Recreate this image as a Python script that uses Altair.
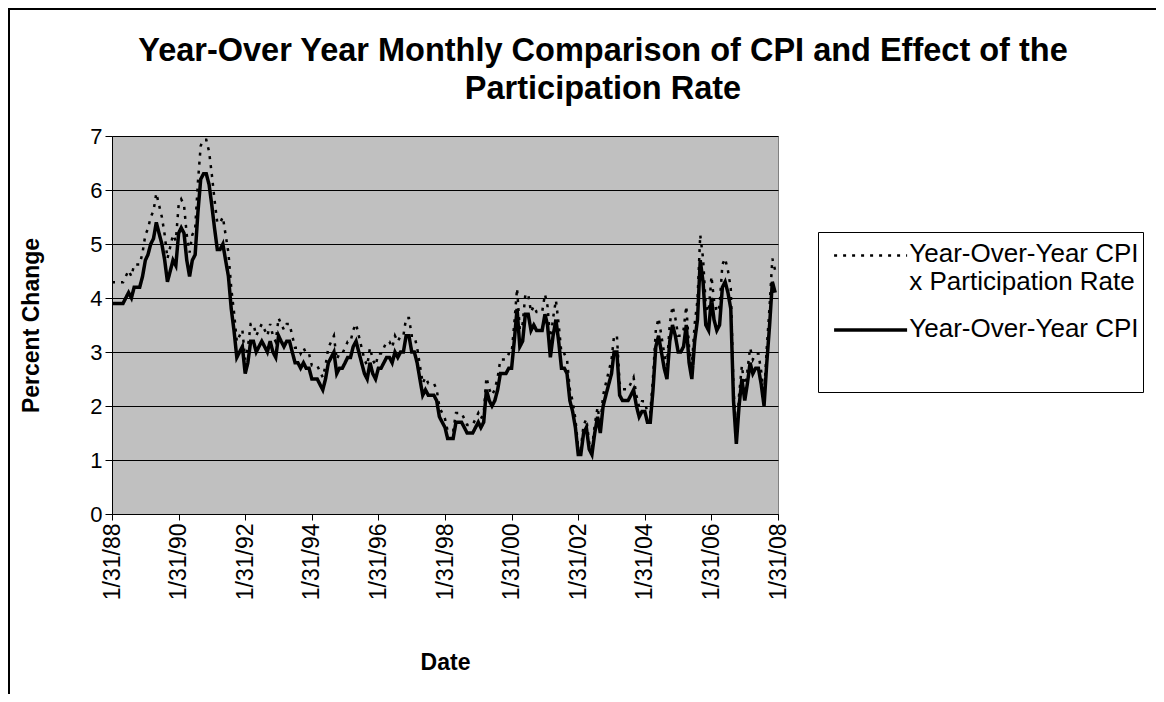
import calendar
import altair as alt
import pandas as pd

# ---------------- data ----------------
S_PR = "Year-Over-Year CPI x Participation Rate"
S_CPI = "Year-Over-Year CPI"

cpi_yoy = [
    3.9, 3.9, 3.9, 3.9, 3.9, 4.0, 4.1, 4.0, 4.2, 4.2, 4.2, 4.4,   # 1988
    4.7, 4.8, 5.0, 5.1, 5.4, 5.2, 5.0, 4.7, 4.3, 4.5, 4.7, 4.6,   # 1989
    5.2, 5.3, 5.2, 4.7, 4.4, 4.7, 4.8, 5.6, 6.2, 6.3, 6.3, 6.1,   # 1990
    5.7, 5.3, 4.9, 4.9, 5.0, 4.7, 4.4, 3.8, 3.4, 2.9, 3.0, 3.1,   # 1991
    2.6, 2.8, 3.2, 3.2, 3.0, 3.1, 3.2, 3.1, 3.0, 3.2, 3.0, 2.9,   # 1992
    3.3, 3.2, 3.1, 3.2, 3.2, 3.0, 2.8, 2.8, 2.7, 2.8, 2.7, 2.7,   # 1993
    2.5, 2.5, 2.5, 2.4, 2.3, 2.5, 2.8, 2.9, 3.0, 2.6, 2.7, 2.7,   # 1994
    2.8, 2.9, 2.9, 3.1, 3.2, 3.0, 2.8, 2.6, 2.5, 2.8, 2.6, 2.5,   # 1995
    2.7, 2.7, 2.8, 2.9, 2.9, 2.8, 3.0, 2.9, 3.0, 3.0, 3.3, 3.3,   # 1996
    3.0, 3.0, 2.8, 2.5, 2.2, 2.3, 2.2, 2.2, 2.2, 2.1, 1.8, 1.7,   # 1997
    1.6, 1.4, 1.4, 1.4, 1.7, 1.7, 1.7, 1.6, 1.5, 1.5, 1.5, 1.6,   # 1998
    1.7, 1.6, 1.7, 2.3, 2.1, 2.0, 2.1, 2.3, 2.6, 2.6, 2.6, 2.7,   # 1999
    2.7, 3.2, 3.8, 3.1, 3.2, 3.7, 3.7, 3.4, 3.5, 3.4, 3.4, 3.4,   # 2000
    3.7, 3.5, 2.9, 3.3, 3.6, 3.2, 2.7, 2.7, 2.6, 2.1, 1.9, 1.6,   # 2001
    1.1, 1.1, 1.5, 1.6, 1.2, 1.1, 1.5, 1.8, 1.5, 2.0, 2.2, 2.4,   # 2002
    2.6, 3.0, 3.0, 2.2, 2.1, 2.1, 2.1, 2.2, 2.3, 2.0, 1.8, 1.9,   # 2003
    1.9, 1.7, 1.7, 2.3, 3.1, 3.3, 3.0, 2.7, 2.5, 3.2, 3.5, 3.3,   # 2004
    3.0, 3.0, 3.1, 3.5, 2.8, 2.5, 3.2, 3.6, 4.7, 4.3, 3.5, 3.4,   # 2005
    4.0, 3.6, 3.4, 3.5, 4.2, 4.3, 4.1, 3.8, 2.1, 1.3, 2.0, 2.5,   # 2006
    2.1, 2.4, 2.8, 2.6, 2.7, 2.7, 2.4, 2.0, 2.8, 3.5, 4.3, 4.1,   # 2007
]

cpi_x_participation = [
    4.29, 4.29, 4.29, 4.29, 4.29, 4.40, 4.51, 4.40, 4.62, 4.62, 4.62, 4.84,   # 1988
    5.17, 5.28, 5.50, 5.61, 5.94, 5.72, 5.50, 5.17, 4.73, 4.95, 5.17, 5.06,   # 1989
    5.72, 5.83, 5.72, 5.17, 4.84, 5.17, 5.28, 6.16, 6.82, 6.93, 6.93, 6.71,   # 1990
    6.27, 5.83, 5.39, 5.39, 5.50, 5.17, 4.84, 4.18, 3.74, 3.19, 3.30, 3.41,   # 1991
    2.86, 3.08, 3.52, 3.52, 3.30, 3.41, 3.52, 3.41, 3.30, 3.52, 3.30, 3.19,   # 1992
    3.63, 3.52, 3.41, 3.52, 3.52, 3.30, 3.08, 3.08, 2.97, 3.08, 2.97, 2.97,   # 1993
    2.75, 2.75, 2.75, 2.64, 2.53, 2.75, 3.08, 3.19, 3.30, 2.86, 2.97, 2.97,   # 1994
    3.08, 3.19, 3.19, 3.41, 3.52, 3.30, 3.08, 2.86, 2.75, 3.08, 2.86, 2.75,   # 1995
    2.97, 2.97, 3.08, 3.19, 3.19, 3.08, 3.30, 3.19, 3.30, 3.30, 3.63, 3.63,   # 1996
    3.30, 3.30, 3.08, 2.75, 2.42, 2.53, 2.42, 2.42, 2.42, 2.31, 1.98, 1.87,   # 1997
    1.76, 1.54, 1.54, 1.54, 1.87, 1.87, 1.87, 1.76, 1.65, 1.65, 1.65, 1.76,   # 1998
    1.87, 1.76, 1.87, 2.53, 2.31, 2.20, 2.31, 2.53, 2.86, 2.86, 2.86, 2.97,   # 1999
    2.97, 3.52, 4.18, 3.41, 3.52, 4.07, 4.07, 3.74, 3.85, 3.74, 3.74, 3.74,   # 2000
    4.07, 3.85, 3.19, 3.63, 3.96, 3.52, 2.97, 2.97, 2.86, 2.31, 2.09, 1.76,   # 2001
    1.21, 1.21, 1.65, 1.76, 1.32, 1.21, 1.65, 1.98, 1.65, 2.20, 2.42, 2.64,   # 2002
    2.86, 3.30, 3.30, 2.42, 2.31, 2.31, 2.31, 2.42, 2.53, 2.20, 1.98, 2.09,   # 2003
    2.09, 1.87, 1.87, 2.53, 3.41, 3.63, 3.30, 2.97, 2.75, 3.52, 3.85, 3.63,   # 2004
    3.30, 3.30, 3.41, 3.85, 3.08, 2.75, 3.52, 3.96, 5.17, 4.73, 3.85, 3.74,   # 2005
    4.40, 3.96, 3.74, 3.85, 4.62, 4.73, 4.51, 4.18, 2.31, 1.43, 2.20, 2.75,   # 2006
    2.31, 2.64, 3.08, 2.86, 2.97, 2.97, 2.64, 2.20, 3.08, 3.85, 4.73, 4.51,   # 2007
]

tick_years = [1988, 1990, 1992, 1994, 1996, 1998, 2000, 2002, 2004, 2006, 2008]
y_ticks = [0, 1, 2, 3, 4, 5, 6, 7]

# month-end dates, 1/31/88 ... 12/31/07
dates = []
for i in range(len(cpi_yoy)):
    yr, mo = 1988 + i // 12, i % 12 + 1
    dates.append(f"{yr}-{mo:02d}-{calendar.monthrange(yr, mo)[1]:02d}")

df = pd.DataFrame({
    "date": dates * 2,
    "value": cpi_x_participation + cpi_yoy,
    "series": [S_PR] * len(dates) + [S_CPI] * len(dates),
})

FONT = "Liberation Sans"
W, H = 666, 378
PAD_L, PAD_T = 104, 128
TOTAL_W, TOTAL_H = 1148, 686

x_dom = [alt.DateTime(year=1988, month=1, date=31, utc=True),
         alt.DateTime(year=2008, month=1, date=31, utc=True)]
x_vals = [alt.DateTime(year=y, month=1, date=31, utc=True) for y in tick_years]

# legend symbol: a 73px horizontal stroke drawn slightly above the entry anchor
SYM = 48.8
legend = alt.Legend(
    title=" ", titleOrient="bottom", titlePadding=36, titleFontSize=10,
    orient="none", legendX=706, legendY=96, direction="vertical",
    symbolType="M-1.4959,-0.2623H1.4959", symbolSize=SYM * SYM,
    symbolStrokeColor="black", symbolFillColor="transparent",
    symbolOffset=22.1, labelOffset=12.2,
    labelFont=FONT, labelFontSize=26, labelColor="black", labelLimit=600,
    labelBaseline="alphabetic",
    labelExpr=(f"datum.label == '{S_PR}' ? "
               "['Year-Over-Year CPI', '\u00a0\u00a0x Participation Rate'] : datum.label"),
    padding=4, rowPadding=15,
    strokeColor="black", fillColor="white",
)

lines = alt.Chart(df).mark_line(color="black", strokeCap="butt").encode(
    x=alt.X("date:T",
            scale=alt.Scale(type="utc", domain=x_dom),
            axis=alt.Axis(values=x_vals, format="%-m/%d/%y", labelAngle=270,
                          labelFont=FONT, labelFontSize=23, labelColor="black",
                          labelPadding=3, tickSize=6, tickColor="black",
                          domainColor="black", grid=False,
                          title="Date", titleFont=FONT, titleFontSize=23,
                          titleFontWeight="bold", titleColor="black",
                          titleX=W / 2, titleY=155, titleBaseline="alphabetic")),
    y=alt.Y("value:Q",
            scale=alt.Scale(domain=[0, 7], nice=False, zero=True),
            axis=alt.Axis(values=y_ticks, format="d", grid=True, gridColor="black",
                          gridWidth=1, gridOpacity=1,
                          labelFont=FONT, labelFontSize=22, labelColor="black",
                          labelPadding=3, tickSize=7, tickColor="black",
                          domainColor="black",
                          title="Percent Change", titleFont=FONT, titleFontSize=23,
                          titleFontWeight="bold", titleColor="black",
                          titleAngle=270, titleAlign="center",
                          titleBaseline="alphabetic", titleX=-74, titleY=H / 2)),
    strokeDash=alt.StrokeDash("series:N",
                              scale=alt.Scale(domain=[S_PR, S_CPI], range=[[3, 6], [1, 0]]),
                              legend=legend),
    strokeWidth=alt.StrokeWidth("series:N",
                                scale=alt.Scale(domain=[S_PR, S_CPI], range=[2.5, 3.5]),
                                legend=legend),
    order=alt.Order("date:T"),
)

frame_df = pd.DataFrame({"k": [0]})
frame_top = alt.Chart(frame_df).mark_rule(color="black", strokeWidth=2).encode(
    x=alt.value(-PAD_L), x2=alt.value(TOTAL_W - PAD_L), y=alt.value(-PAD_T + 1))
frame_left = alt.Chart(frame_df).mark_rule(color="black", strokeWidth=2).encode(
    x=alt.value(-PAD_L + 1), y=alt.value(-PAD_T), y2=alt.value(TOTAL_H - PAD_T))

chart = alt.layer(lines, frame_top, frame_left).properties(
    width=W, height=H,
    autosize=alt.AutoSizeParams(type="none"),
    padding={"left": PAD_L, "top": PAD_T, "right": TOTAL_W - PAD_L - W,
             "bottom": TOTAL_H - PAD_T - H},
    background="white",
    title=alt.TitleParams(
        text=["Year-Over Year Monthly Comparison of CPI and Effect of the",
              "Participation Rate"],
        font=FONT, fontSize=32.5, fontWeight="bold", color="black",
        anchor="middle", dx=158, dy=98, offset=0, lineHeight=38),
).configure_view(
    fill="#C0C0C0", stroke="#808080", strokeWidth=1,
)

chart.save("out.html", embed_options={"renderer": "svg", "actions": False})
